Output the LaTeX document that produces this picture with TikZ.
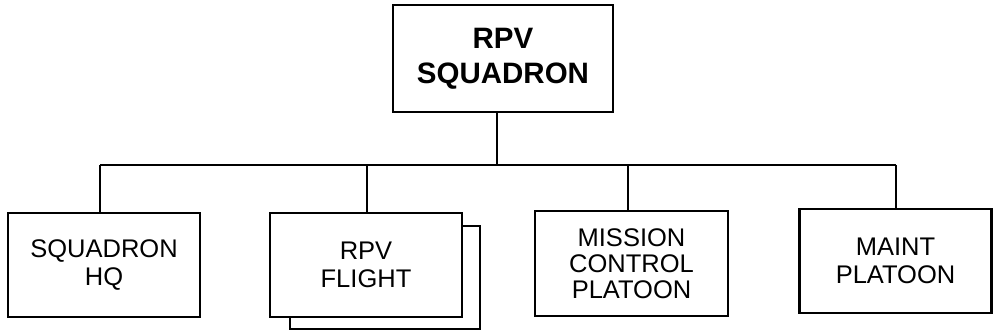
\documentclass[tikz,border=0pt]{standalone}
\usepackage{fontspec}
\setmainfont{Liberation Sans}
\begin{document}
\begin{tikzpicture}[x=1pt,y=-1pt,
  box/.style={draw,line width=2.8pt,rectangle,fill=white,align=center,inner sep=0pt},
  big/.style={font=\fontsize{29.5}{35}\selectfont\bfseries},
  small/.style={font=\fontsize{25.5}{28}\selectfont},
  conn/.style={line width=2.6pt}]
\useasboundingbox (0,0) rectangle (993,331);
\node[box,big,minimum width=220pt,minimum height=107pt] (top) at (503,58.5) {RPV\\SQUADRON};
\node[box,small,minimum width=192pt,minimum height=104pt] (hq) at (104,265) {SQUADRON\\HQ};
\node[box,minimum width=190pt,minimum height=103pt] (shadow) at (385,277.5) {};
\node[box,small,minimum width=192pt,minimum height=104pt] (flight) at (366,265) {RPV\\FLIGHT};
\node[box,font=\fontsize{25.5}{26}\selectfont,minimum width=193pt,minimum height=105pt] (mission) at (631.5,263.5) {MISSION\\CONTROL\\PLATOON};
\node[box,small,minimum width=192pt,minimum height=104pt] (maint) at (895.5,261) {MAINT\\PLATOON};
\coordinate (bus) at (497,165);
\coordinate (busL) at (100,165);
\coordinate (busR) at (896,165);
\draw[conn] (top.south -| bus) -- (bus);
\draw[conn] (busL) -- (busR);
\draw[conn] (busL) -- (busL |- hq.north);
\draw[conn] (busL -| 367,0) -- (367,0 |- flight.north);
\draw[conn] (628,165) -- (628,0 |- mission.north);
\draw[conn] (busR) -- (busR |- maint.north);
\end{tikzpicture}
\end{document}
